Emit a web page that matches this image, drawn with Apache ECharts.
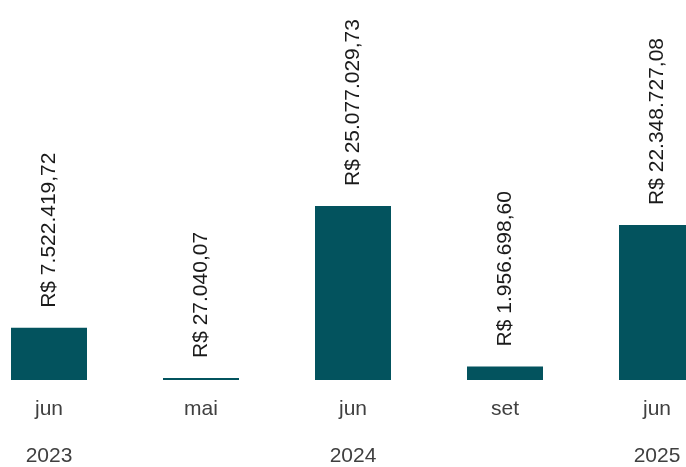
<!DOCTYPE html>
<html><head><meta charset="utf-8">
<script src="https://cdn.jsdelivr.net/npm/echarts@6/dist/echarts.min.js"></script>
<style>html,body{margin:0;padding:0;background:#fff}#c{width:686px;height:467px}</style>
</head><body><div id="c"></div>
<script>
var months = ["jun", "mai", "jun", "set", "jun"];
var years = ["2023", "", "2024", "", "2025"];
var values = [7522419.72, 27040.07, 25077029.73, 1956698.60, 22348727.08];

function brl(v) {
  var parts = v.toFixed(2).split(".");
  var intPart = parts[0].replace(/\B(?=(\d{3})+(?!\d))/g, ".");
  return "R$ " + intPart + "," + parts[1];
}

var chart = echarts.init(document.getElementById('c'), null, {renderer: 'canvas'});
chart.setOption({
  animation: false,
  grid: {left: -27, width: 760, top: 102.5, bottom: 87, containLabel: false, outerBoundsMode: 'none'},
  xAxis: [
    {type: 'category', data: months, position: 'bottom',
     axisLine: {show: false}, axisTick: {show: false},
     axisLabel: {color: '#404040', fontSize: 21, fontFamily: 'Liberation Sans, Arial, sans-serif', margin: 19}},
    {type: 'category', data: years, position: 'bottom', offset: 47,
     axisLine: {show: false}, axisTick: {show: false},
     axisLabel: {color: '#404040', fontSize: 21, fontFamily: 'Liberation Sans, Arial, sans-serif', margin: 19, interval: 0}}
  ],
  yAxis: {type: 'value', min: 0, max: 40000000, show: false, splitLine: {show: false}},
  series: [{
    type: 'bar', data: values, xAxisIndex: 0, barWidth: '50%', barMinHeight: 2,
    itemStyle: {color: '#03535E'},
    label: {show: true, position: 'top', rotate: 90, align: 'left', verticalAlign: 'middle',
      distance: 20, color: '#1a1a1a', fontSize: 21, fontFamily: 'Liberation Sans, Arial, sans-serif',
      formatter: function (p) { return brl(p.value); }}
  }]
});
</script></body></html>
